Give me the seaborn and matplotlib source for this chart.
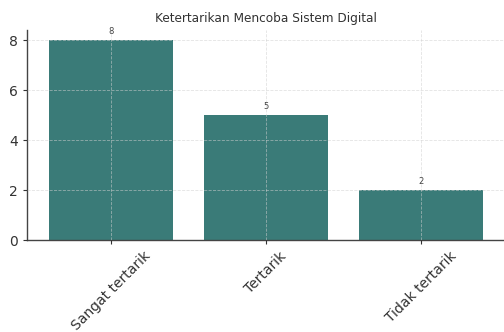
import matplotlib
matplotlib.use("Agg")
import matplotlib.pyplot as plt
import seaborn as sns
import pandas as pd

categories = ["Sangat tertarik", "Tertarik", "Tidak tertarik"]
values = [8, 5, 2]
title = "Ketertarikan Mencoba Sistem Digital"

sns.set_style("white")
plt.rcParams['font.family'] = ['DejaVu Sans']

df = pd.DataFrame({"kategori": categories, "jumlah": values})

fig = plt.figure(figsize=(5.04, 3.32), dpi=100)
ax = fig.add_axes([27/504, 1 - 240/332, 478/504, 210/332])

sns.barplot(data=df, x="kategori", y="jumlah", color="#3a7b78", saturation=1,
            width=0.8, ax=ax, zorder=1, linewidth=0)
ax.set_xlim(-0.54, 2.54)
ax.set_ylim(0, 8.4)
ax.set_yticks([0, 2, 4, 6, 8])
ax.set_xlabel("")
ax.set_ylabel("")
ax.set_title(title, fontsize=8.7, color="#333333", pad=6)

for i, v in enumerate(values):
    ax.text(i, v + 0.15, str(v), ha="center", va="bottom", fontsize=6, color="#444444")

ax.grid(True, linestyle="--", color="#d0d0d0", linewidth=0.6, alpha=0.6)
ax.set_axisbelow(False)
for s in ["top", "right"]:
    ax.spines[s].set_visible(False)
for s in ["left", "bottom"]:
    ax.spines[s].set_color("#444444")
    ax.spines[s].set_linewidth(1.0)

ax.tick_params(axis="both", labelsize=10, colors="#333333", length=3, width=0.8,
               direction="out", left=True, bottom=True)
plt.setp(ax.get_xticklabels(), rotation=45)

fig.savefig("out.png", dpi=100)
